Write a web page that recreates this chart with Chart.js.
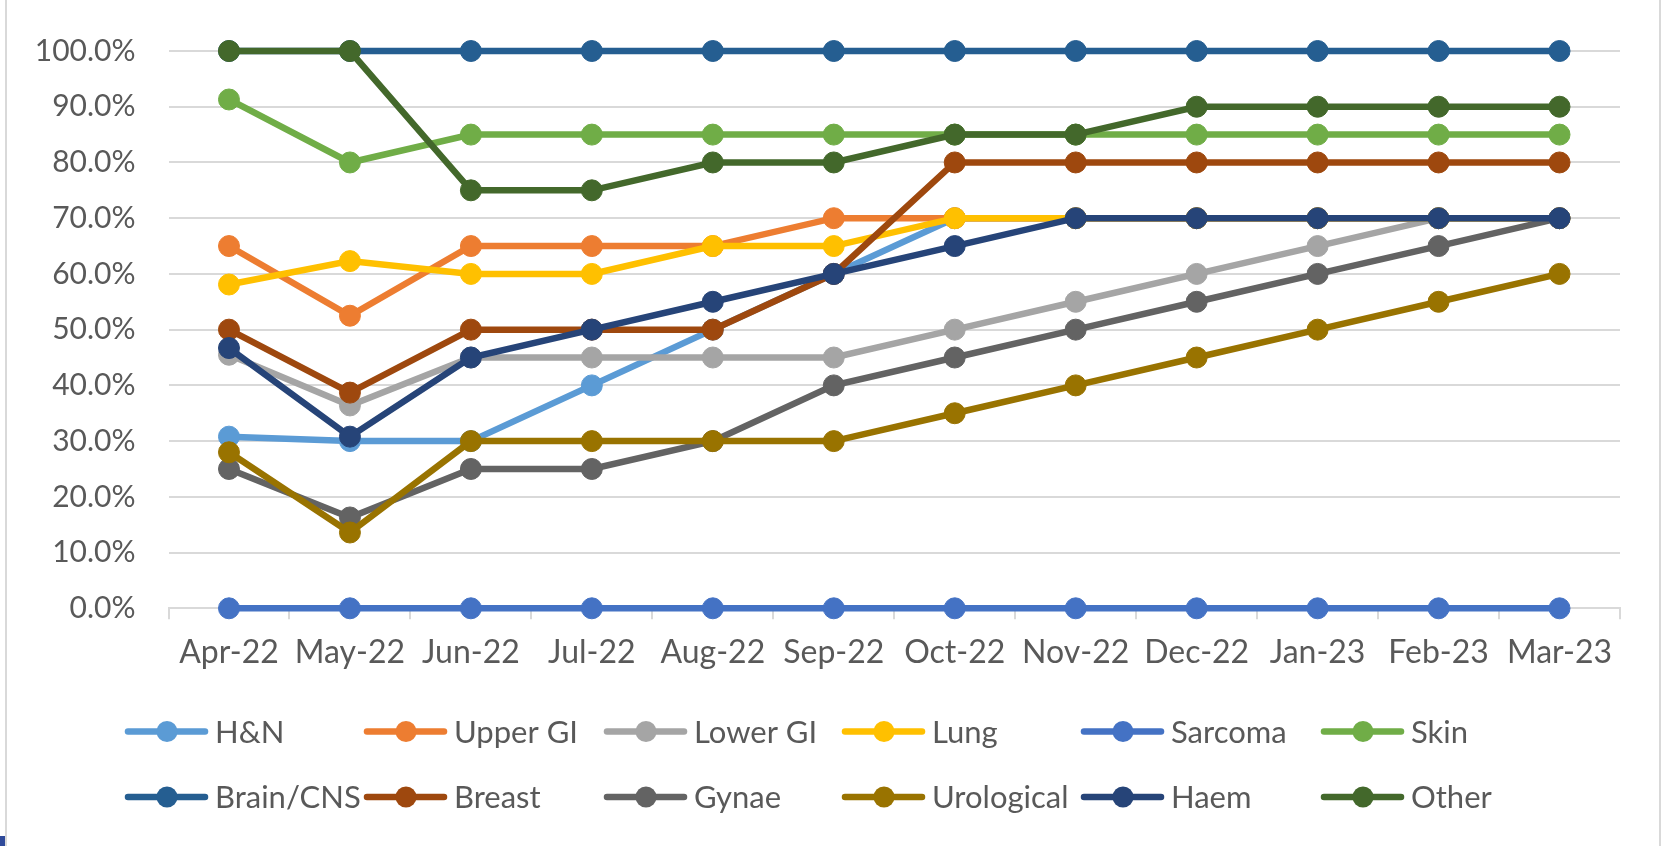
<!DOCTYPE html>
<html><head><meta charset="utf-8">
<script src="https://cdn.jsdelivr.net/npm/chart.js@4.4.1/dist/chart.umd.min.js"></script>
<style>
html,body{margin:0;padding:0;background:#fff;}
#wrap{position:relative;width:1662px;height:846px;overflow:hidden;background:#fff;}
#c{position:absolute;left:0;top:0;}
.bl{position:absolute;left:5px;top:0;width:2px;height:846px;background:#D9D9D9;}
.br{position:absolute;left:1659px;top:0;width:2px;height:846px;background:#D9D9D9;}
.mk{position:absolute;left:0;top:836px;width:5px;height:10px;background:#2F4A9A;}
</style></head>
<body>
<div id="wrap">
<canvas id="c" width="1662" height="846"></canvas>
<div class="bl"></div><div class="br"></div><div class="mk"></div>
</div>
<script>
const categories = ['Apr-22','May-22','Jun-22','Jul-22','Aug-22','Sep-22','Oct-22','Nov-22','Dec-22','Jan-23','Feb-23','Mar-23'];
const seriesNames = ['H&N','Upper GI','Lower GI','Lung','Sarcoma','Skin','Brain/CNS','Breast','Gynae','Urological','Haem','Other'];
const hn        = [30.8, 30.0, 30, 40, 50, 60, 70, 70, 70, 70, 70, 70];
const upperGI   = [65.0, 52.5, 65, 65, 65, 70, 70, 70, 70, 70, 70, 70];
const lowerGI   = [45.5, 36.4, 45, 45, 45, 45, 50, 55, 60, 65, 70, 70];
const lung      = [58.1, 62.3, 60, 60, 65, 65, 70, 70, 70, 70, 70, 70];
const sarcoma   = [0, 0, 0, 0, 0, 0, 0, 0, 0, 0, 0, 0];
const skin      = [91.3, 80, 85, 85, 85, 85, 85, 85, 85, 85, 85, 85];
const brainCNS  = [100, 100, 100, 100, 100, 100, 100, 100, 100, 100, 100, 100];
const breast    = [50, 38.7, 50, 50, 50, 60, 80, 80, 80, 80, 80, 80];
const gynae     = [25, 16.3, 25, 25, 30, 40, 45, 50, 55, 60, 65, 70];
const urological= [28, 13.6, 30, 30, 30, 30, 35, 40, 45, 50, 55, 60];
const haem      = [46.7, 30.8, 45, 50, 55, 60, 65, 70, 70, 70, 70, 70];
const other     = [100, 100, 75, 75, 80, 80, 85, 85, 90, 90, 90, 90];
const yTicks = [0,10,20,30,40,50,60,70,80,90,100];

const seriesValues = [hn, upperGI, lowerGI, lung, sarcoma, skin, brainCNS, breast, gynae, urological, haem, other];
const colors = ['#5B9BD5','#ED7D31','#A5A5A5','#FFC000','#4472C4','#70AD47','#255E91','#9E480E','#636363','#997300','#264478','#43682B'];

const FONT = 'Lato';
const TEXT = '#595959';

const datasets = seriesNames.map((name, i) => ({
  label: name,
  data: seriesValues[i],
  borderColor: colors[i],
  backgroundColor: colors[i],
  pointBackgroundColor: colors[i],
  pointBorderColor: colors[i],
  borderWidth: 6.5,
  pointRadius: 10.5,
  pointBorderWidth: 1,
  tension: 0,
  fill: false,
  clip: false,
  order: -i
}));

const colLegend = {
  id: 'colLegend',
  afterDraw(chart) {
    const ctx = chart.ctx;
    const cols = [125, 364, 604, 842, 1081, 1321];
    const rows = [731.5, 797];
    chart.data.datasets.forEach((ds, i) => {
      const x = cols[i % 6], y = rows[Math.floor(i / 6)];
      ctx.save();
      ctx.strokeStyle = ds.borderColor;
      ctx.lineWidth = 6.5;
      ctx.lineCap = 'round';
      ctx.beginPath(); ctx.moveTo(x + 3, y); ctx.lineTo(x + 80, y); ctx.stroke();
      ctx.fillStyle = ds.borderColor;
      ctx.beginPath(); ctx.arc(x + 42, y, 10.5, 0, Math.PI * 2); ctx.fill();
      ctx.fillStyle = TEXT;
      ctx.font = '31px ' + FONT;
      ctx.textBaseline = 'middle';
      ctx.textAlign = 'left';
      ctx.fillText(ds.label, x + 90, y + 1);
      ctx.restore();
    });
  }
};

new Chart(document.getElementById('c'), {
  type: 'line',
  data: { labels: categories, datasets },
  plugins: [colLegend],
  options: {
    responsive: false,
    animation: false,
    devicePixelRatio: 1,
    layout: { padding: { left: 0, right: 42, top: 49, bottom: 0 } },
    plugins: { legend: { display: false }, tooltip: { enabled: false } },
    scales: {
      x: {
        offset: true,
        grid: { offset: true, drawOnChartArea: false, drawTicks: true, tickLength: 11, color: '#D9D9D9', lineWidth: 2 },
        border: { display: true, color: '#D9D9D9', width: 2 },
        ticks: { color: TEXT, font: { family: FONT, size: 32 }, padding: 14, maxRotation: 0, autoSkip: false },
        afterFit(s) { s.height = 846 - 608.3; }
      },
      y: {
        min: 0, max: 100,
        afterBuildTicks(s) { s.ticks = yTicks.map(v => ({ value: v })); },
        grid: { color: '#D9D9D9', lineWidth: 2, drawTicks: false },
        border: { display: false },
        ticks: { color: TEXT, font: { family: FONT, size: 30 }, padding: 33, callback: v => v.toFixed(1) + '%' },
        afterFit(s) { s.width = 168.5; }
      }
    }
  }
});
</script>
</body></html>
